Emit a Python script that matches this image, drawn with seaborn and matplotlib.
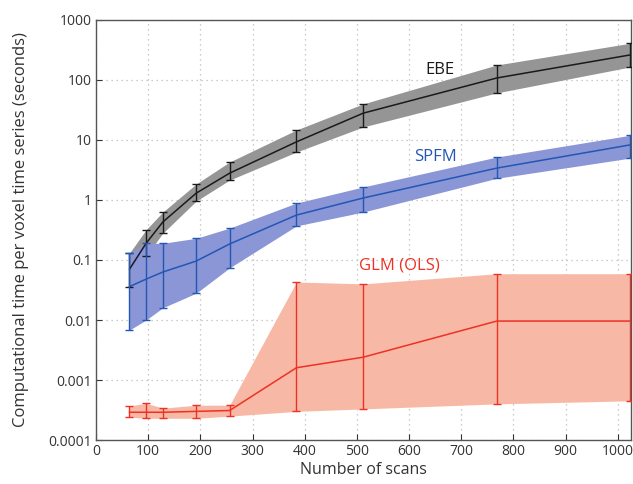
import numpy as np
import pandas as pd
import matplotlib
matplotlib.use('Agg')
import matplotlib.pyplot as plt
import seaborn as sns

# Data
scans = [64, 96, 128, 192, 256, 384, 512, 768, 1024]

ebe_mean = [0.07, 0.19, 0.43, 1.3, 2.8, 9.3, 28, 108, 262]
ebe_low = [0.036, 0.117, 0.28, 0.96, 2.15, 6.3, 16.5, 61, 165]
ebe_high = [0.13, 0.32, 0.63, 1.85, 4.3, 14.7, 40, 178, 410]

spfm_mean = [0.036, 0.048, 0.063, 0.096, 0.185, 0.56, 1.08, 3.4, 8.3]
spfm_low = [0.0068, 0.010, 0.016, 0.028, 0.074, 0.37, 0.63, 2.3, 5.0]
spfm_high = [0.13, 0.19, 0.19, 0.23, 0.34, 0.89, 1.65, 5.2, 12]

glm_mean = [0.00029, 0.00029, 0.00029, 0.00030, 0.00031, 0.0016, 0.0024, 0.0096, 0.0096]
glm_low = [0.00024, 0.00023, 0.00023, 0.00023, 0.00025, 0.00030, 0.00033, 0.00040, 0.00045]
glm_high = [0.00037, 0.00041, 0.00034, 0.00038, 0.00038, 0.043, 0.040, 0.059, 0.059]

methods = ['EBE', 'SPFM', 'GLM (OLS)']
line_colors = ['#1a1a1a', '#2356b5', '#ee3124']
fill_colors = ['#959595', '#8a96d6', '#f7b9a6']

df = pd.DataFrame({
    'scans': scans * 3,
    'time': ebe_mean + spfm_mean + glm_mean,
    'method': [m for m in methods for _ in scans],
})

sns.set_style('ticks')
plt.rcParams['font.family'] = ['Open Sans', 'DejaVu Sans']

fig = plt.figure(figsize=(6.33, 4.84), dpi=100)
ax = fig.add_axes([0.1517, 0.0909, 0.845, 0.8678])

bands = [(ebe_low, ebe_high), (spfm_low, spfm_high), (glm_low, glm_high)]
for (lo, hi), fc in zip(bands, fill_colors):
    ax.fill_between(scans, lo, hi, color=fc, linewidth=0, zorder=1)

sns.lineplot(data=df, x='scans', y='time', hue='method', palette=line_colors,
             linewidth=1.1, legend=False, ax=ax, zorder=3)

means = [ebe_mean, spfm_mean, glm_mean]
for m, (lo, hi), lc in zip(means, bands, line_colors):
    m = np.array(m)
    yerr = [m - np.array(lo), np.array(hi) - m]
    ax.errorbar(scans, m, yerr=yerr, fmt='none', ecolor=lc, elinewidth=1.0,
                capsize=3, capthick=1.0, zorder=4)

ax.set_yscale('log')
ax.set_ylim(1e-4, 1000)
ax.set_xlim(0, 1025)
ax.set_xticks(range(0, 1001, 100))
ax.set_yticks([1e-4, 1e-3, 1e-2, 1e-1, 1, 10, 100, 1000])
ax.set_yticklabels(['0.0001', '0.001', '0.01', '0.1', '1', '10', '100', '1000'])
ax.minorticks_off()
ax.grid(True, linestyle=(0, (1, 3)), color='#bbbbbb', linewidth=0.9)
ax.tick_params(direction='in', length=4, labelsize=10, colors='#333333', pad=3)
for s in ax.spines.values():
    s.set_color('#555555')
    s.set_linewidth(1.0)

ax.set_xlabel('Number of scans', fontsize=11.5, color='#333333', labelpad=2)
ax.set_ylabel('Computational time per voxel time series (seconds)', fontsize=12,
              color='#333333', labelpad=14)

ax.text(659, 147, 'EBE', color='#1a1a1a', fontsize=12, ha='center', va='center')
ax.text(651, 5.2, 'SPFM', color='#2356b5', fontsize=12, ha='center', va='center')
ax.text(582, 0.082, 'GLM (OLS)', color='#ee3124', fontsize=12, ha='center', va='center')

fig.savefig('out.png', dpi=100)
